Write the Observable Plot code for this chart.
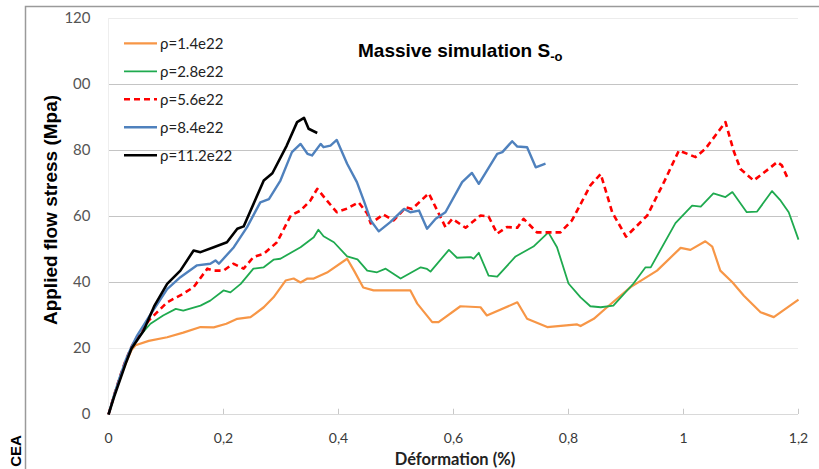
<!DOCTYPE html>
<html>
<head>
<meta charset="utf-8">
<script src="https://cdn.jsdelivr.net/npm/d3@7"></script>
<script src="https://cdn.jsdelivr.net/npm/@observablehq/plot@0.6"></script>
<style>
  html, body { margin: 0; padding: 0; background: #fff; }
  #chart { position: relative; width: 819px; height: 469px; }
</style>
</head>
<body>
<div id="chart"></div>
<script>
// ---- data ----
const seriesNames = ["ρ=1.4e22", "ρ=2.8e22", "ρ=5.6e22", "ρ=8.4e22", "ρ=11.2e22"];
const seriesColors = ["#F79646", "#1FAA4F", "#FF0000", "#4F81BD", "#000000"];

const x14 = [0,0.01,0.02,0.03,0.04,0.047,0.07,0.102,0.13,0.16,0.183,0.205,0.224,0.247,0.27,0.287,0.308,0.322,0.334,0.346,0.357,0.38,0.415,0.427,0.443,0.461,0.49,0.525,0.537,0.563,0.574,0.612,0.647,0.658,0.711,0.728,0.763,0.815,0.821,0.844,0.867,0.908,0.954,0.995,1.012,1.038,1.05,1.064,1.085,1.105,1.134,1.157,1.2];
const y14 = [0,6,11,15.5,19.5,21,22.3,23.4,24.8,26.5,26.4,27.5,29,29.5,32.5,35.5,40.6,41.2,40,41.2,41.2,43,47.2,43.6,38.5,37.6,37.6,37.6,33.6,28,28,32.8,32.5,30,34,29,26.5,27.3,26.8,29,32.5,38.6,43.6,50.5,49.9,52.5,50.9,43.6,40.1,36,31,29.5,34.8];

const x28 = [0,0.01,0.02,0.03,0.04,0.05,0.073,0.095,0.117,0.13,0.16,0.177,0.2,0.212,0.23,0.252,0.27,0.287,0.299,0.334,0.357,0.365,0.374,0.392,0.415,0.433,0.45,0.467,0.482,0.508,0.543,0.554,0.56,0.592,0.606,0.63,0.635,0.644,0.661,0.676,0.708,0.739,0.765,0.78,0.8,0.821,0.838,0.856,0.878,0.913,0.934,0.943,0.986,1.015,1.03,1.052,1.073,1.085,1.11,1.128,1.154,1.169,1.183,1.2];
const y28 = [0,6,11.5,16,20,23,27.5,30,32,31.5,33,34.5,37.6,37,39.6,44.2,44.6,46.9,47.2,50.7,53.7,56,54,52.2,47.9,47,43.6,43.1,44.2,41.2,44.6,44.1,43.3,49.9,47.5,47.7,47.2,49,42.1,41.8,47.9,50.9,55.2,50.7,39.7,35.5,32.8,32.5,33,39.7,44.6,44.6,58,63.3,63,67,65.9,67.4,61.3,61.5,67.7,64.8,61.3,53];

const x56 = [0,0.01,0.02,0.03,0.04,0.05,0.07,0.102,0.13,0.148,0.172,0.183,0.2,0.217,0.235,0.252,0.27,0.293,0.317,0.334,0.351,0.363,0.38,0.397,0.415,0.435,0.45,0.456,0.478,0.496,0.517,0.528,0.557,0.586,0.598,0.621,0.647,0.661,0.676,0.693,0.711,0.722,0.745,0.786,0.806,0.838,0.856,0.876,0.9,0.937,0.966,0.992,1.021,1.038,1.073,1.087,1.099,1.122,1.148,1.163,1.171,1.183];
const y56 = [0,6,11.5,16.5,20.5,23.5,28.5,34,36.6,38.6,44.2,43.6,43.6,45.7,44.2,47.7,48.7,52.2,60.3,61.8,64.8,68.4,64.8,61.3,62.4,64.3,60.9,57.9,60.6,58.8,62.8,62.3,67,56.8,59.3,56.6,60.3,60,54.8,56.8,56.6,59.3,55.2,55.2,58.8,69.4,72.9,61.3,53.9,60.3,70.4,80,78,80.5,88.6,80,74.4,70.9,74.4,76.5,75.5,70.9];

const x84 = [0,0.01,0.02,0.03,0.04,0.05,0.07,0.102,0.125,0.154,0.177,0.186,0.192,0.218,0.241,0.264,0.279,0.299,0.319,0.334,0.346,0.354,0.369,0.374,0.386,0.397,0.415,0.432,0.444,0.456,0.47,0.49,0.514,0.525,0.54,0.554,0.569,0.586,0.615,0.632,0.644,0.676,0.685,0.702,0.711,0.728,0.743,0.76];
const y84 = [0,6,11.5,16.5,20.5,24,29.5,38,41.6,45.2,45.7,46.7,45.7,50.7,56.8,64.3,65.3,70.9,79.5,82,79,78.5,82,81,81.5,83.2,76,70.4,64.8,58.8,55.5,58.3,62.3,61.3,61.8,56.3,59.3,61.3,70.4,73.2,69.9,79,79.5,82.8,81.2,81,74.9,76];

const x112 = [0,0.01,0.02,0.03,0.04,0.061,0.08,0.102,0.125,0.148,0.16,0.183,0.206,0.224,0.235,0.27,0.285,0.31,0.328,0.34,0.348,0.363];
const y112 = [0,5.5,10.5,15.5,20,25.4,33,39.6,43.6,49.7,49.2,50.7,52.2,56.3,57,70.9,73.1,81.5,88.6,89.9,86.6,85.3];

const xTicks = [0, 0.2, 0.4, 0.6, 0.8, 1, 1.2];
const xTickLabels = ["0", "0,2", "0,4", "0,6", "0,8", "1", "1,2"];
const yTicks = [0, 20, 40, 60, 80, 100, 120];
const yTickLabels = ["0", "20", "40", "60", "80", "00", "120"];
const majorGrid = [40, 60, 80, 100];
const minorGrid = [20, 120];

const titleText = "Massive simulation S";
const titleSub = "-o";
const xTitle = "Déformation (%)";
const yTitle = "Applied flow stress (Mpa)";
const sideNote = "CEA";

// ---- build ----
const xs = [x14, x28, x56, x84, x112];
const ys = [y14, y28, y56, y84, y112];
const series = xs.map((xa, i) => xa.map((x, j) => ({x, y: ys[i][j]})));
const dashes = [null, null, "6,4", null, null];
const widths = [2.2, 1.8, 2.6, 2.4, 2.6];

const lineMarks = series.map((d, i) => Plot.line(d, {
  x: "x", y: "y", stroke: seriesColors[i], strokeWidth: widths[i],
  strokeDasharray: dashes[i] || undefined, strokeLinejoin: "round", strokeLinecap: "butt"
}));

const chart = Plot.plot({
  width: 819,
  height: 469,
  marginLeft: 108,
  marginRight: 21,
  marginTop: 18,
  marginBottom: 55,
  style: {fontFamily: "Lato, 'Open Sans', sans-serif", background: "#fff"},
  x: {domain: [0, 1.2]},
  y: {domain: [0, 120]},
  marks: [
    Plot.ruleY(minorGrid, {stroke: "#ececec", strokeWidth: 1}),
    Plot.ruleY(majorGrid, {stroke: "#c4c4c4", strokeWidth: 1.2}),
    Plot.ruleX([0], {stroke: "#eeeeee"}),
    Plot.ruleY([0], {stroke: "#d9d9d9", strokeWidth: 1}),
    Plot.ruleX(xTicks.slice(1), {y1: 0, y2: 1.6, stroke: "#c8c8c8"}),
    Plot.axisX({ticks: xTicks, tickFormat: (d) => xTickLabels[xTicks.indexOf(d)], tickSize: 0, tickPadding: 19,
      fill: "#3a3a3a", fontSize: 14, label: null}),
    Plot.axisY({ticks: yTicks, tickFormat: (d) => yTickLabels[yTicks.indexOf(d)], tickSize: 0, tickPadding: 18,
      fill: "#555555", fontSize: 15, label: null}),
    ...lineMarks
  ]
});

document.getElementById("chart").appendChild(chart);

// ---- overlay: frame, titles, legend ----
const svg = d3.select(chart);
const g = svg.append("g").attr("text-anchor", "start");

// partial frame (left and top edges)
g.append("path").attr("d", "M25.5,469 L25.5,6.5 L819,6.5")
  .attr("fill", "none").attr("stroke", "#9a9a9a").attr("stroke-width", 1.5);

// chart title with subscript
const t = g.append("text").attr("x", 358).attr("y", 57).attr("text-anchor", "start")
  .attr("font-family", "'Liberation Sans', Arial, sans-serif").attr("font-weight", "bold")
  .attr("font-size", 19).attr("fill", "#000");
t.append("tspan").text(titleText);
t.append("tspan").attr("font-size", 13).attr("dy", 4).text(titleSub);

// axis titles
g.append("text").attr("x", 455).attr("y", 465).attr("text-anchor", "middle")
  .attr("font-family", "Lato, sans-serif").attr("font-weight", "bold").attr("font-size", 16.5)
  .attr("fill", "#222").text(xTitle);
g.append("text").attr("transform", "translate(57,210) rotate(-90)").attr("text-anchor", "middle")
  .attr("font-family", "'Liberation Sans', Arial, sans-serif").attr("font-weight", "bold").attr("font-size", 19)
  .attr("fill", "#000").text(yTitle);

// side note
g.append("text").attr("transform", "translate(21,451) rotate(-90)").attr("text-anchor", "middle")
  .attr("font-family", "'Liberation Sans', Arial, sans-serif").attr("font-weight", "bold").attr("font-size", 15)
  .attr("fill", "#000").text(sideNote);

// legend
seriesNames.forEach((name, i) => {
  const yy = 43.3 + i * 28;
  g.append("line").attr("x1", 124).attr("x2", 157).attr("y1", yy).attr("y2", yy)
    .attr("stroke", seriesColors[i]).attr("stroke-width", widths[i])
    .attr("stroke-dasharray", dashes[i]);
  g.append("text").attr("x", 160).attr("y", yy).attr("dy", "0.35em").attr("text-anchor", "start")
    .attr("font-family", "Lato, sans-serif").attr("font-size", 15).attr("fill", "#222").text(name);
});
</script>
</body>
</html>
